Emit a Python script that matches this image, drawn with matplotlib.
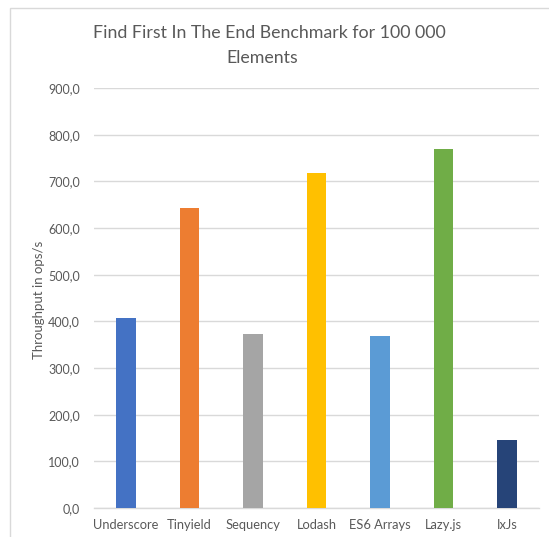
import matplotlib
matplotlib.use('Agg')
import matplotlib.pyplot as plt
from matplotlib.patches import Rectangle
from matplotlib.ticker import FuncFormatter

libraries = ['Underscore', 'Tinyield', 'Sequency', 'Lodash', 'ES6 Arrays', 'Lazy.js', 'IxJs']
throughput = [407.5, 643.5, 372.5, 718.0, 369.0, 768.5, 146.5]
bar_colors = ['#4472C4', '#ED7D31', '#A5A5A5', '#FFC000', '#5B9BD5', '#70AD47', '#264478']

plt.rcParams['font.family'] = ['Lato', 'DejaVu Sans']

fig = plt.figure(figsize=(5.49, 5.37), dpi=100)
# outer chart border, excel style
fig.patches.append(Rectangle((10 / 549, -0.01), 1.0, 1 - 8 / 537 + 0.01, transform=fig.transFigure,
                             fill=False, edgecolor='#D9D9D9', linewidth=1.0))

ax = fig.add_axes([94 / 549, 1 - 508 / 537, 445 / 549, 420 / 537])

x = range(len(libraries))
ax.bar(x, throughput, width=0.31, color=bar_colors, zorder=3)

ax.set_xlim(-0.5, len(libraries) - 0.5)
ax.set_ylim(0, 900)
ax.set_yticks(range(0, 901, 100))
ax.yaxis.set_major_formatter(FuncFormatter(lambda v, p: '{:.1f}'.format(v).replace('.', ',')))
ax.set_xticks(list(x))
ax.set_xticklabels(libraries)

ax.grid(axis='y', color='#D9D9D9', linewidth=1.0, zorder=0)
for s in ['top', 'right', 'left']:
    ax.spines[s].set_visible(False)
ax.spines['bottom'].set_color('#D9D9D9')
ax.spines['bottom'].set_linewidth(1.0)
ax.tick_params(axis='both', length=0, colors='#595959', labelsize=9)
ax.tick_params(axis='x', labelsize=9.3)
ax.tick_params(axis='y', pad=10)
ax.tick_params(axis='x', pad=8)

fig.text(269 / 549, 1 - 33 / 537, 'Find First In The End Benchmark for 100 000', ha='center', va='center',
         fontsize=12.8, color='#595959')
fig.text(262 / 549, 1 - 58 / 537, 'Elements', ha='center', va='center', fontsize=12.8, color='#595959')
fig.text(39 / 549, 1 - 300 / 537, 'Throughput in ops/s', rotation=90, ha='center', va='center',
         fontsize=9.5, color='#595959')

fig.savefig('out.png', dpi=100)
